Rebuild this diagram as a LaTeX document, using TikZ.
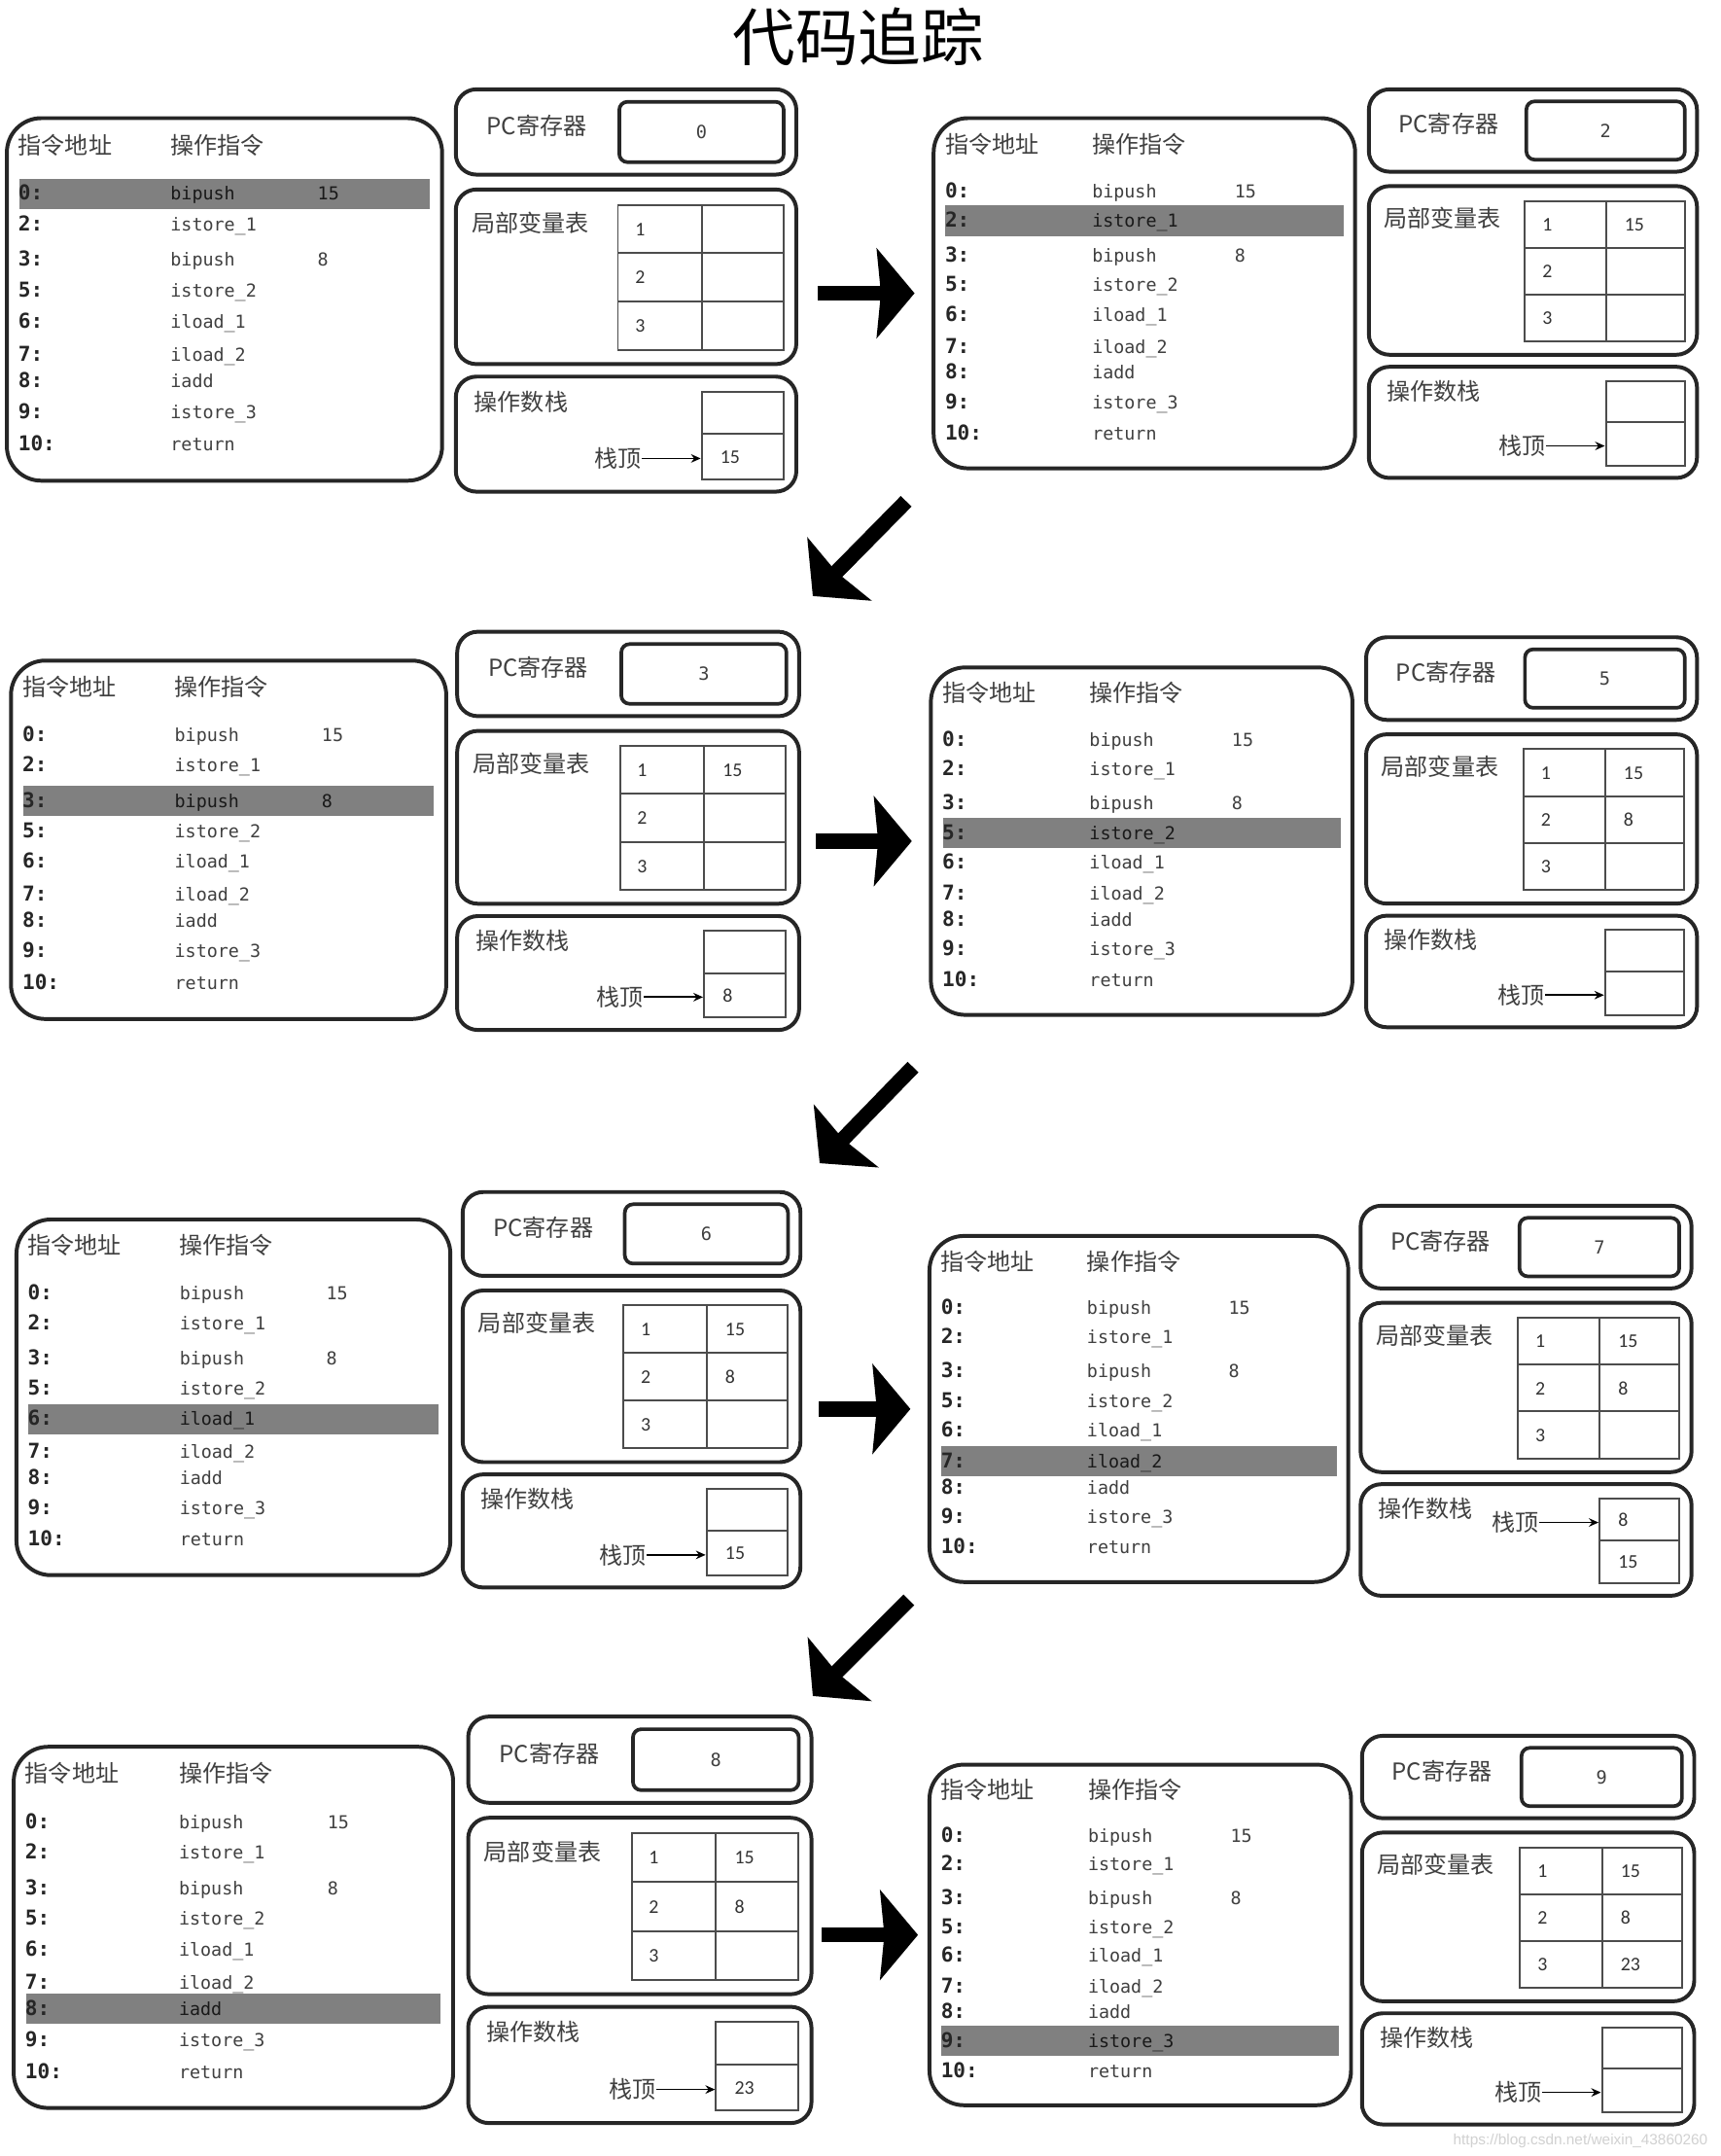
\documentclass[tikz,border=0pt]{standalone}
\usepackage{fontspec}
\setmainfont{Noto Sans CJK SC}
\setmonofont{DejaVu Sans Mono}
\newfontfamily\numfont{Carlito}
\newfontfamily\urlfont{Liberation Sans}
\usepackage{xcolor}
\usepackage{tikz}
\usetikzlibrary{arrows.meta,positioning,fit,calc}
\definecolor{boxline}{RGB}{38,38,38}
\definecolor{rowgray}{RGB}{128,128,128}
\definecolor{txtgray}{RGB}{64,64,64}

% code listing of one step: name, x, y, width, height, highlighted row
\newcommand{\codepanel}[6]{%
  \node[codebox,fit={(#2,#3) (#2+#4,#3+#5)}] (#1code) {};
  \node[hdr,anchor=mid west] (#1h1) at (#2+8,#3+0.08*#5) {指令地址};
  \node[hdr,anchor=mid west] (#1h2) at (#2+0.375*#4,#3+0.08*#5) {操作指令};
  \foreach \ad/\ins/\arg/\f [count=\i] in {0/bipush/15/0.208,2/istore\_1//0.293,3/bipush/8/0.391,
      5/istore\_2//0.476,6/iload\_1//0.561,7/iload\_2//0.652,8/iadd//0.726,9/istore\_3//0.811,10/return//0.900}{
    \ifnum\i=#6\relax
      \fill[rowgray] (#2+0.028*#4,#3+\f*#5-11) rectangle (#2+0.972*#4,#3+\f*#5+11);
      \def\rowtxt{black!90}%
    \else
      \def\rowtxt{txtgray}%
    \fi
    \node[addr,anchor=mid west] (#1a\i) at (#2+8,#3+\f*#5) {\ad:};
    \node[instr,text=\rowtxt,anchor=mid west] (#1i\i) at (#2+0.375*#4,#3+\f*#5) {\ins};
    \node[instr,text=\rowtxt,anchor=mid west] (#1o\i) at (#2+0.713*#4,#3+\f*#5) {\arg};
  }
}

% pc register, local variables and operand stack: name, x, y, width, height, pc
\newcommand{\statepanel}[6]{%
  \node[regbox,fit={(#2,#3) (#2+#4,#3+0.212*#5)}] (#1pc) {};
  \node[hdr,anchor=mid west] (#1pcl) at (#2+0.089*#4,#3+0.096*#5) {PC寄存器};
  \node[valbox,fit={(#2+0.48*#4,#3+0.031*#5) (#2+0.963*#4,#3+0.181*#5)}] (#1pcv) {};
  \node[pcval] at (#1pcv) {#6};
  \node[regbox,fit={(#2,#3+0.249*#5) (#2+#4,#3+0.683*#5)}] (#1lv) {};
  \node[hdr,anchor=mid west] (#1lvl) at (#2+0.045*#4,#3+0.338*#5) {局部变量表};
  \foreach \r in {1,2,3}{
    \node[cellbox,fit={(#2+0.476*#4,#3+0.287*#5+\r*0.1203*#5-0.1203*#5) (#2+0.722*#4,#3+0.287*#5+\r*0.1203*#5)}] (#1k\r) {};
    \node[cellbox,fit={(#2+0.722*#4,#3+0.287*#5+\r*0.1203*#5-0.1203*#5) (#2+0.962*#4,#3+0.287*#5+\r*0.1203*#5)}] (#1v\r) {};
    \node[num,anchor=mid west] at ($(#1k\r.west)+(13,0)$) {\r};
  }
  \node[regbox,fit={(#2,#3+0.714*#5) (#2+#4,#3+#5)}] (#1st) {};
  \node[hdr,anchor=mid west] (#1stl) at (#2+0.053*#4,#3+0.782*#5) {操作数栈};
  \node[cellbox,fit={(#2+0.722*#4,#3+0.751*#5) (#2+0.962*#4,#3+0.857*#5)}] (#1sa) {};
  \node[cellbox,fit={(#2+0.722*#4,#3+0.857*#5) (#2+0.962*#4,#3+0.969*#5)}] (#1sb) {};
}

% value written into a cell
\newcommand{\cellval}[2]{\node[num,anchor=mid west] at ($(#1.west)+(14,0)$) {#2};}
% stack top pointer
\newcommand{\stacktop}[2]{%
  \node[hdr,anchor=mid east] (#1ptr) at ($(#1#2.west)+(-43,3)$) {栈顶};
  \draw[ptr] (#1ptr.east) -- (#1ptr.east -| #1#2.west);
}

\begin{document}
\begin{tikzpicture}[
  x=0.02cm,y=-0.02cm,
  codebox/.style={draw=boxline,line width=1.6pt,rounded corners=0.5cm,inner sep=0pt},
  regbox/.style={draw=boxline,line width=1.6pt,rounded corners=0.3cm,inner sep=0pt},
  valbox/.style={draw=boxline,line width=1.5pt,rounded corners=0.12cm,inner sep=0pt},
  cellbox/.style={draw=black!70,line width=0.8pt,inner sep=0pt},
  hdr/.style={font=\fontsize{9.7}{11}\selectfont,text=txtgray,inner sep=0pt},
  addr/.style={font=\ttfamily\bfseries\fontsize{8.5}{9}\selectfont,text=black!85,inner sep=0pt},
  instr/.style={font=\ttfamily\fontsize{7.4}{8}\selectfont,text=txtgray,inner sep=0pt},
  num/.style={font=\numfont\fontsize{8}{9}\selectfont,text=black!80,inner sep=0pt},
  pcval/.style={font=\ttfamily\fontsize{7.5}{8}\selectfont,text=txtgray,inner sep=0pt},
  bigarr/.style={line width=0.22cm,-{Stealth[length=0.55cm 0 0,width=1.3cm 0 0,inset=0.06cm]}},
  ptr/.style={line width=0.7pt,-{Stealth[length=4pt,width=3.5pt]}}
]
\fill[white] (0,0) rectangle (1253,1568);

\node[font=\fontsize{26}{30}\selectfont] (title) at (625,25) {代码追踪};

% step 1
\codepanel{p1}{5}{84}{317}{264}{1}
\statepanel{p1}{332}{63}{248}{293}{0}
\cellval{p1sb}{15}
\stacktop{p1}{sb}

% step 2
\codepanel{p2}{680}{84}{307}{255}{2}
\statepanel{p2}{997}{63}{239}{283}{2}
\cellval{p2v1}{15}
\stacktop{p2}{sb}

% step 3
\codepanel{p3}{8}{479}{317}{261}{3}
\statepanel{p3}{333}{458}{249}{290}{3}
\cellval{p3v1}{15}
\cellval{p3sb}{8}
\stacktop{p3}{sb}

% step 4
\codepanel{p4}{678}{484}{307}{253}{4}
\statepanel{p4}{995}{462}{241}{284}{5}
\cellval{p4v1}{15}
\cellval{p4v2}{8}
\stacktop{p4}{sb}

% step 5
\codepanel{p5}{12}{886}{316}{259}{5}
\statepanel{p5}{337}{866}{246}{288}{6}
\cellval{p5v1}{15}
\cellval{p5v2}{8}
\cellval{p5sb}{15}
\stacktop{p5}{sb}

% step 6
\codepanel{p6}{677}{898}{305}{252}{6}
\statepanel{p6}{991}{876}{241}{284}{7}
\cellval{p6v1}{15}
\cellval{p6v2}{8}
\cellval{p6sa}{8}
\cellval{p6sb}{15}
\node[hdr,anchor=mid east] (p6ptr) at ($(p6sa.west)+(-43,4)$) {栈顶};
\draw[ptr] (p6ptr.east) -- (p6ptr.east -| p6sa.west);

% step 7
\codepanel{p7}{10}{1270}{320}{263}{7}
\statepanel{p7}{341}{1248}{250}{296}{8}
\cellval{p7v1}{15}
\cellval{p7v2}{8}
\cellval{p7sb}{23}
\stacktop{p7}{sb}

% step 8
\codepanel{p8}{677}{1283}{307}{248}{8}
\statepanel{p8}{992}{1262}{242}{283}{9}
\cellval{p8v1}{15}
\cellval{p8v2}{8}
\cellval{p8v3}{23}
\stacktop{p8}{sb}

% flow between steps
\draw[bigarr,shorten <=0.28cm,shorten >=0.25cm] (p1lv.east |- p2code.west) -- (p2code.west);
\draw[bigarr,shorten <=0.22cm,shorten >=0.25cm] (p3lv.east |- p4code.west) -- (p4code.west);
\draw[bigarr,shorten <=0.24cm,shorten >=0.25cm] (p5lv.east |- p6code.west) -- (p6code.west);
\draw[bigarr,shorten <=0.12cm,shorten >=0.14cm] (p7lv.east |- p8code.west) -- (p8code.west);
\coordinate (d1a) at (660,363);  \coordinate (d1b) at (592,432);
\coordinate (d2a) at (665,775);  \coordinate (d2b) at (597,845);
\coordinate (d3a) at (662,1163); \coordinate (d3b) at (592,1233);
\draw[bigarr] (d1a) -- (d1b);
\draw[bigarr] (d2a) -- (d2b);
\draw[bigarr] (d3a) -- (d3b);

\node[font=\urlfont\fontsize{6.2}{7}\selectfont,text=black!18,anchor=east] (wm) at (1250,1557) {https://blog.csdn.net/weixin\_43860260};
\end{tikzpicture}
\end{document}
